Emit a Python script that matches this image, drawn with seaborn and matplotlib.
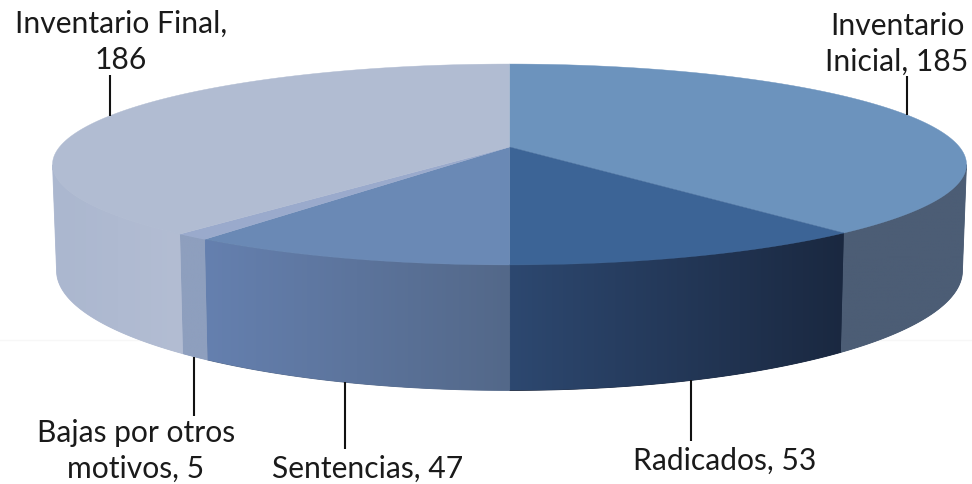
import numpy as np
import matplotlib
matplotlib.use("Agg")
import matplotlib.pyplot as plt
from matplotlib.patches import Polygon
import seaborn as sns

categories = ["Inventario Inicial", "Radicados", "Sentencias", "Bajas por otros motivos", "Inventario Final"]
values = [185, 53, 47, 5, 186]
label_texts = ["Inventario\nInicial, 185", "Radicados, 53", "Sentencias, 47", "Bajas por otros\nmotivos, 5", "Inventario Final,\n186"]
top_colors = ["#6C93BD", "#3C6496", "#6A89B5", "#9AAACC", "#B1BCD2"]
side_colors = [("#4C5D75", "#4C5D75"), ("#2D4870", "#1A2840"), ("#6580AF", "#536889"),
               ("#8E9FBE", "#8E9FBE"), ("#ABB7CF", "#B3BDD3")]

sns.set_theme(style="white")
plt.rcParams["font.family"] = ["Lato", "DejaVu Sans"]

fig = plt.figure(figsize=(9.72, 4.84), dpi=100)
ax = fig.add_axes([0, 0, 1, 1])

CX, K = 509.5, 0.174
def top(t):
    u, v = np.sin(t), -np.cos(t)
    return CX + 450 * u / (1 - K * v), 147 + 97.4 * v / (1 - K * v)
def bottom(t):
    u, v = np.sin(t), -np.cos(t)
    return CX + 446 * u / (1 - K * v), 250 + 116 * v / (1 - K * v)

ax.axhline(340, color="#F7F7F7", lw=1, zorder=0)

edges = np.cumsum([0] + values) / sum(values) * 2 * np.pi
for i in range(len(values)):
    t = np.linspace(edges[i], edges[i + 1], 300)
    front = t[-np.cos(t) >= K]
    if len(front):
        xt, yt = top(front)
        xb, yb = bottom(front)
        xs = np.r_[xt, xb[::-1]]
        ys = np.r_[yt, yb[::-1]]
        # solid underlay hides the seams left by the clipped gradient
        ax.fill(xs, ys, color=side_colors[i][1], lw=0.6, zorder=1.5)
        poly = Polygon(np.c_[xs, ys], closed=True, fc="none", ec="none", transform=ax.transData)
        ax.add_patch(poly)
        cmap = sns.blend_palette(side_colors[i], as_cmap=True)
        grad = np.linspace(0, 1, 256).reshape(1, -1)
        im = ax.imshow(grad, cmap=cmap, aspect="auto", zorder=2,
                       extent=[xs.min(), xs.max(), ys.max(), ys.min()], interpolation="bilinear")
        im.set_clip_path(poly)
for i in range(len(values)):
    t = np.linspace(edges[i], edges[i + 1], 300)
    xt, yt = top(t)
    ax.fill(np.r_[CX, xt], np.r_[147, yt], color=top_colors[i], lw=0.3, zorder=3)

leaders = [(907, 76, 115), (691, 380, 441), (345, 382, 449), (194, 357, 416), (110, 75, 116)]
for x, y0, y1 in leaders:
    ax.plot([x, x], [y0, y1], color="#111111", lw=1.5, zorder=4, solid_capstyle="butt")

label_pos = [(897, 71), (725, 470), (368, 478), (136, 478), (121, 69)]
for txt, (x, y) in zip(label_texts, label_pos):
    ax.text(x, y, txt, ha="center", va="baseline", fontsize=21.6, color="#1A1A1A",
            linespacing=1.36, zorder=5, multialignment="center")

ax.set_xlim(0, 972)
ax.set_ylim(484, 0)
ax.axis("off")
fig.savefig("out.png", dpi=100, facecolor="white")
